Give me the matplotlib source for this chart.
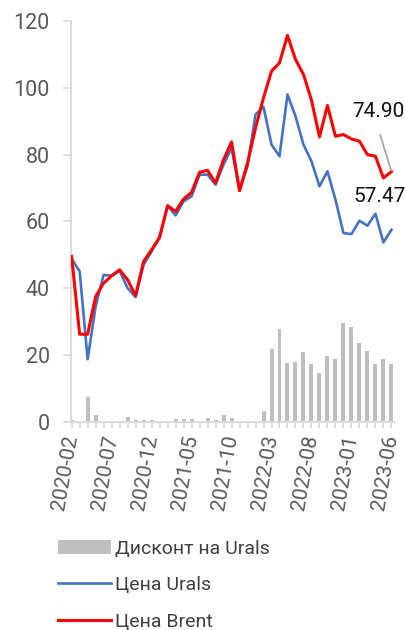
import numpy as np
import matplotlib
matplotlib.use("Agg")
import matplotlib.pyplot as plt

plt.rcParams['font.family'] = ['Roboto', 'DejaVu Sans']

# monthly data 2020-02 .. 2023-06
months = ["2020-02", "2020-03", "2020-04", "2020-05", "2020-06", "2020-07", "2020-08",
          "2020-09", "2020-10", "2020-11", "2020-12", "2021-01", "2021-02", "2021-03",
          "2021-04", "2021-05", "2021-06", "2021-07", "2021-08", "2021-09", "2021-10",
          "2021-11", "2021-12", "2022-01", "2022-02", "2022-03", "2022-04", "2022-05",
          "2022-06", "2022-07", "2022-08", "2022-09", "2022-10", "2022-11", "2022-12",
          "2023-01", "2023-02", "2023-03", "2023-04", "2023-05", "2023-06"]

brent = [49.5, 26.2, 26.2, 37.5, 41.5, 43.7, 45.5, 42.5, 37.8, 48.0, 51.5, 55.3, 64.7, 63.0,
         66.7, 68.7, 74.7, 75.3, 71.5, 78.5, 83.8, 69.2, 77.5, 88.0, 97.0, 105.0, 107.5, 115.7,
         108.5, 104.0, 96.3, 85.3, 94.7, 85.5, 86.0, 84.7, 84.0, 80.0, 79.5, 73.0, 74.90]

urals = [48.8, 45.0, 18.7, 34.5, 44.0, 43.7, 45.2, 40.0, 37.3, 47.0, 51.0, 55.0, 64.7, 61.8,
         66.0, 67.5, 74.0, 74.0, 71.0, 77.0, 82.0, 69.2, 76.5, 92.0, 94.3, 83.0, 79.5, 98.0,
         91.5, 83.0, 78.0, 70.5, 75.0, 66.5, 56.5, 56.2, 60.2, 58.7, 62.3, 53.7, 57.47]

discount = [0.5, -0.5, 7.3, 2.0, -0.3, 0.0, 0.3, 1.5, 0.5, 0.6, 0.5, -0.3, 0.0, 0.8,
            0.8, 0.9, 0.0, 1.1, 0.4, 2.1, 1.1, 0.0, 0.3, -0.5, 3.3, 21.7, 27.7, 17.5,
            17.9, 21.0, 17.3, 14.5, 19.6, 18.7, 29.5, 28.3, 23.5, 21.1, 17.3, 18.9, 17.3]

x = np.arange(len(months))
gray_txt = "#595959"
axis_col = "#D9D9D9"

fig = plt.figure(figsize=(4.06, 6.30), dpi=100)
ax = fig.add_axes([0.174, 0.3306, 0.796, 0.636])

b = ax.bar(x, discount, width=0.5, color="#BFBFBF", label="Дисконт на Urals", zorder=1)
l1, = ax.plot(x, urals, color="#4472C4", lw=1.9, label="Цена Urals", zorder=2)
l2, = ax.plot(x, brent, color="#FF0000", lw=2.2, label="Цена Brent", zorder=3)

ax.set_ylim(0, 120)
ax.set_xlim(-0.125, 40.3)
ax.set_yticks([0, 20, 40, 60, 80, 100, 120])
ax.set_xticks(x[::5])
ax.set_xticklabels(months[::5], rotation=80, ha="right", va="center",
                   rotation_mode="anchor")
ax.set_xticks(x, minor=True)

for s in ["top", "right"]:
    ax.spines[s].set_visible(False)
for s in ["left", "bottom"]:
    ax.spines[s].set_color(axis_col)
    ax.spines[s].set_linewidth(1.3)

ax.tick_params(axis="y", colors=axis_col, labelcolor=gray_txt, labelsize=15.5,
               length=6, width=1.2, pad=9)
ax.tick_params(axis="x", which="both", colors=axis_col, labelcolor=gray_txt,
               labelsize=15, length=4, width=1.2, pad=6)

# value labels at the end of the series
ax.annotate(f"{brent[-1]:.2f}", xy=(x[-1], brent[-1]), xytext=(38.4, 92.8),
            ha="center", va="center", fontsize=15, color="#111111",
            arrowprops=dict(arrowstyle="-", color="#A6A6A6", lw=1.3,
                            relpos=(0.45, 0), shrinkA=8, shrinkB=1))
ax.text(38.5, 67.4, f"{urals[-1]:.2f}", ha="center", va="center",
        fontsize=15, color="#111111")

leg = fig.legend([b, l1, l2], ["Дисконт на Urals", "Цена Urals", "Цена Brent"],
                 loc="upper left", bbox_to_anchor=(58 / 406, 1 - 540 / 630),
                 frameon=False, fontsize=14, borderpad=0, borderaxespad=0,
                 handlelength=2.7, handletextpad=0.25, labelspacing=0.94)
for t in leg.get_texts():
    t.set_color("#404040")

fig.savefig("out.png", dpi=100)
